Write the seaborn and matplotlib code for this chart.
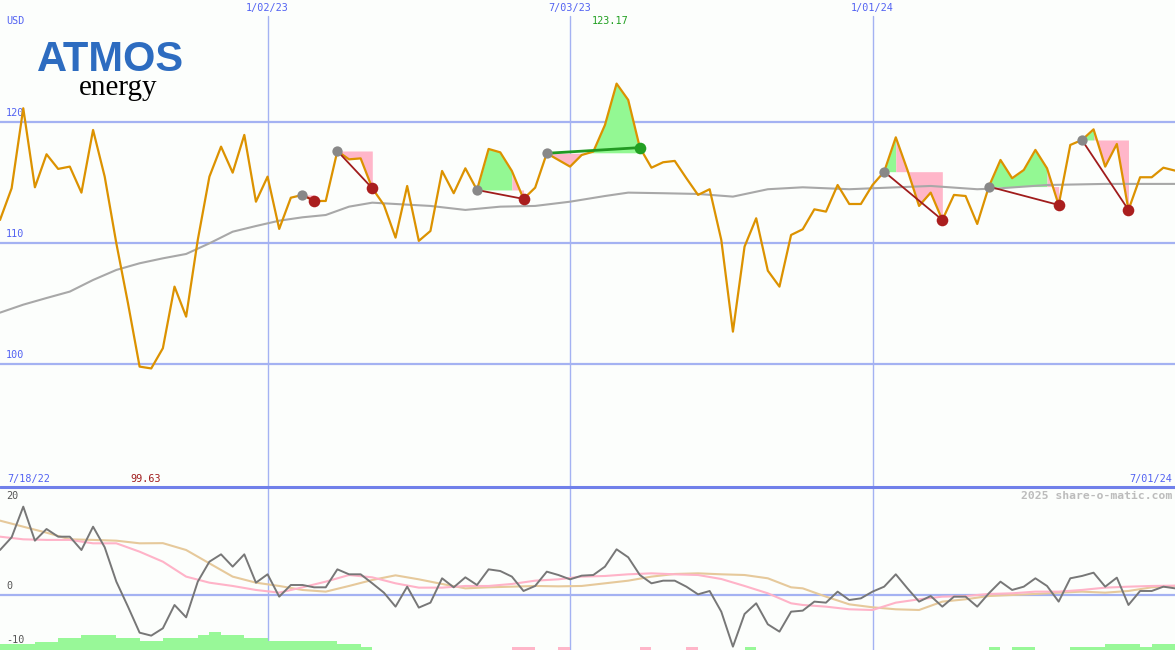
import numpy as np
import pandas as pd
import seaborn as sns
import matplotlib.pyplot as plt

# weekly closes, 7/25/22 .. 7/01/24
weeks = pd.date_range("2022-07-25", periods=102, freq="7D")

price = [111.90, 114.52, 121.13, 114.60, 117.33, 116.12, 116.31, 114.16, 119.34, 115.48,
         109.97, 105.02, 99.78, 99.63, 101.30, 106.39, 103.91, 110.25, 115.48, 117.96,
         115.81, 118.93, 113.41, 115.48, 111.16, 113.74, 113.97, 113.47, 113.47, 117.60,
         116.91, 116.99, 114.52, 113.14, 110.44, 114.71, 110.17, 110.99, 115.95, 114.11,
         116.17, 114.38, 117.77, 117.49, 115.95, 113.64, 114.57, 117.41, 116.86, 116.31,
         117.27, 117.55, 119.75, 123.17, 121.82, 117.88, 116.22, 116.67, 116.78, 115.35,
         113.97, 114.44, 110.25, 102.67, 109.70, 112.04, 107.71, 106.39, 110.66, 111.13,
         112.78, 112.59, 114.79, 113.22, 113.22, 114.79, 115.89, 118.73, 116.03, 113.06,
         114.16, 111.90, 113.97, 113.88, 111.57, 114.66, 116.86, 115.35, 116.03, 117.69,
         116.17, 113.14, 118.10, 118.51, 119.39, 116.31, 118.18, 112.73, 115.43, 115.43,
         116.22, 115.98]

# long moving average (read at sampled weeks)
ma_idx = [0, 2, 4, 6, 8, 10, 12, 14, 16, 18, 20, 22, 24, 26, 28, 30, 32, 34, 37, 40,
          43, 46, 49, 52, 54, 57, 60, 63, 66, 69, 73, 75, 80, 84, 86, 90, 95, 101]
ma = [104.24, 104.90, 105.45, 105.98, 106.94, 107.77, 108.32, 108.73, 109.09, 109.97,
      110.93, 111.40, 111.84, 112.12, 112.31, 113.00, 113.33, 113.22, 113.06, 112.73,
      113.00, 113.06, 113.41, 113.88, 114.16, 114.11, 114.05, 113.83, 114.44, 114.60,
      114.44, 114.52, 114.71, 114.44, 114.52, 114.79, 114.88, 114.88]

# oscillator panel
osc = [8.33, 10.68, 16.36, 10.06, 12.22, 10.80, 10.80, 8.33, 12.65, 8.83,
       2.47, -2.16, -6.98, -7.53, -6.17, -1.85, -4.14, 2.47, 6.17, 7.53,
       5.25, 7.53, 2.28, 3.83, -0.31, 1.85, 1.85, 1.42, 1.42, 4.75,
       3.83, 3.83, 2.16, 0.43, -2.16, 1.54, -2.34, -1.42, 3.09, 1.42,
       3.27, 1.85, 4.75, 4.44, 3.40, 0.74, 1.67, 4.32, 3.70, 2.90,
       3.58, 3.70, 5.25, 8.46, 6.98, 3.70, 2.16, 2.65, 2.65, 1.54,
       0.12, 0.74, -3.09, -9.57, -3.52, -1.54, -5.43, -6.79, -3.09, -2.90,
       -1.23, -1.42, 0.62, -0.93, -0.62, 0.62, 1.54, 3.83, 1.23, -1.23,
       -0.19, -2.16, -0.31, -0.31, -2.16, 0.31, 2.47, 0.93, 1.54, 3.09,
       1.67, -1.23, 3.09, 3.52, 4.13, 1.54, 3.21, -1.85, 0.74, 0.74,
       1.54, 1.23]

smooth_idx = [0, 2, 4, 6, 8, 10, 12, 14, 16, 18, 20, 22, 24, 26, 28, 30, 32, 34, 36, 38,
              40, 42, 44, 46, 48, 50, 52, 54, 56, 58, 60, 62, 64, 66, 68, 69, 71, 73, 75, 77,
              79, 81, 83, 85, 87, 89, 91, 93, 95, 97, 99, 101]
osc_pink = [10.80, 10.31, 10.20, 10.20, 9.57, 9.57, 8.02, 6.17, 3.40, 2.28,
            1.67, 0.93, 0.43, 1.42, 2.47, 3.70, 3.27, 2.16, 1.36, 1.36,
            1.67, 1.67, 2.04, 2.65, 2.90, 3.40, 3.52, 3.83, 4.01, 3.83,
            3.70, 2.96, 1.67, 0.31, -1.54, -1.85, -2.16, -2.65, -2.78, -1.42,
            -0.80, -0.31, -0.20, 0.19, 0.31, 0.62, 0.62, 0.93, 1.36, 1.54,
            1.67, 1.73]
osc_tan = [13.77, 12.65, 11.54, 10.31, 10.20, 10.06, 9.57, 9.60, 8.33, 5.86,
           3.40, 2.28, 1.67, 0.93, 0.62, 1.67, 2.78, 3.64, 2.90, 2.04,
           1.23, 1.42, 1.54, 1.67, 1.60, 1.67, 2.16, 2.65, 3.40, 3.89,
           4.01, 3.83, 3.70, 3.09, 1.42, 1.23, -0.31, -1.73, -2.28, -2.65,
           -2.78, -1.23, -0.80, -0.19, 0.00, 0.19, 0.43, 0.62, 0.43, 0.74,
           1.42, 1.67]

# volume-like bars at the foot of the lower panel
bar_green_idx = [0, 1, 2, 3, 4, 5, 6, 7, 8, 9, 10, 11, 12, 13, 14, 15, 16, 17, 18, 19,
                 20, 21, 22, 23, 24, 25, 26, 27, 28, 29, 30, 31,
                 64, 85, 87, 88, 92, 93, 94, 95, 96, 97, 98, 99, 100]
bar_green = [1.05, 1.05, 1.05, 1.55, 1.55, 2.2, 2.2, 2.8, 2.8, 2.8, 2.2, 2.2, 1.6, 1.6,
             2.2, 2.2, 2.2, 2.8, 3.4, 2.8, 2.8, 2.2, 2.2, 1.6, 1.6, 1.6, 1.6, 1.6, 1.6,
             1.1, 1.1, 0.6,
             0.55, 0.55, 0.55, 0.55, 0.55, 0.55, 0.55, 1.1, 1.1, 1.1, 0.55, 1.1, 1.1]
bar_pink_idx = [44, 45, 48, 55, 59]
bar_pink = [0.55, 0.55, 0.55, 0.55, 0.55]

# patterns: start week, end week, week where colour turns (-1: by sign)
pat_start = [26, 29, 41, 47, 76, 85, 93]
pat_end = [27, 32, 45, 55, 81, 91, 97]
pat_turn = [26, 29, 44, -1, 77, 90, 94]

grid_dates = ["2023-01-02", "2023-07-03", "2024-01-01"]
grid_labels = ["1/02/23", "7/03/23", "1/01/24"]

bg = "#fcfefc"
blue = "#5262f2"
gridc = "#a4b2f2"
orange = "#dc9200"
pinkf = "#ffb6c9"
greenf = "#93f893"
mono = "DejaVu Sans Mono"

sns.set_style("white")
plt.rcParams["font.family"] = ["DejaVu Sans Mono", "DejaVu Sans"]

fig = plt.figure(figsize=(11.75, 6.5), dpi=100, facecolor=bg)
ax = fig.add_axes([0, 163 / 650, 1, 487 / 650])
ax2 = fig.add_axes([0, 0, 1, 163 / 650])
for a in (ax, ax2):
    a.set_axis_off()
    a.set_xlim(weeks[0], weeks[-1])
ax.set_ylim(89.83, 130.08)
ax2.set_ylim(-10.19, 20.0)

# grid
for v in (100, 110, 120):
    ax.axhline(v, color=gridc, lw=1.6, zorder=1)
for d in grid_dates:
    ax.axvline(pd.Timestamp(d), ymin=0, ymax=(487 - 16) / 487, color=gridc, lw=1.0, zorder=1)
    ax2.axvline(pd.Timestamp(d), color=gridc, lw=1.0, zorder=1)
ax2.axhline(0, color=gridc, lw=1.6, zorder=1)
ax2.axhline(20, color="#7080ea", lw=2.2, zorder=6, clip_on=False)

p = np.array(price)
x = np.array(weeks)

# pattern fills
for s, e, t in zip(pat_start, pat_end, pat_turn):
    lvl = p[s]
    if t < 0:
        xs, ys = x[s:e + 1], p[s:e + 1]
        ax.fill_between(xs, ys, lvl, where=ys >= lvl, interpolate=True, color=greenf, lw=0, zorder=2)
        ax.fill_between(xs, ys, lvl, where=ys <= lvl, interpolate=True, color=pinkf, lw=0, zorder=2)
    else:
        if t > s:
            ax.fill_between(x[s:t + 1], p[s:t + 1], lvl, color=greenf, lw=0, zorder=2)
        ax.fill_between(x[t:e + 1], p[t:e + 1], lvl, color=pinkf, lw=0, zorder=2)

sns.lineplot(x=weeks[ma_idx], y=ma, ax=ax, color="#a8a8a8", lw=1.5, zorder=3)
sns.lineplot(x=weeks, y=price, ax=ax, color=orange, lw=1.6, zorder=4)

for s, e in zip(pat_start, pat_end):
    up = p[e] > p[s]
    lc = "#229922" if up else "#a01c1c"
    ax.plot([x[s], x[e]], [p[s], p[e]], color=lc, lw=2.0 if up else 1.3, zorder=5)
    ax.scatter([x[s]], [p[s]], s=55, color="#888888", zorder=6, lw=0)
    ax.scatter([x[e]], [p[e]], s=70, color="#22a022" if up else "#aa1e1e", zorder=6, lw=0)
ax.set_xlabel("")
ax.set_ylabel("")

# lower panel
ax2.bar(weeks[bar_green_idx], bar_green, width=7, align="edge", bottom=-10.19,
        color="#98f898", lw=0, zorder=2)
ax2.bar(weeks[bar_pink_idx], bar_pink, width=7, align="edge", bottom=-10.19,
        color=pinkf, lw=0, zorder=2)
sns.lineplot(x=weeks[smooth_idx], y=osc_tan, ax=ax2, color="#e6c99b", lw=1.5, zorder=3)
sns.lineplot(x=weeks[smooth_idx], y=osc_pink, ax=ax2, color="#ffb3c8", lw=1.5, zorder=3)
sns.lineplot(x=weeks, y=osc, ax=ax2, color="#777777", lw=1.4, zorder=4)
ax2.set_xlabel("")
ax2.set_ylabel("")

# labels
fs = 7.3
for v in (100, 110, 120):
    ax.text(6 / 1175, v + 0.35, str(v), transform=ax.get_yaxis_transform(),
            color=blue, fontsize=fs, va="bottom", family=mono)
ax2.text(6 / 1175, 19.2, "20", transform=ax2.get_yaxis_transform(), color="#555555",
         fontsize=fs, va="top", family=mono)
ax2.text(6 / 1175, 0.7, "0", transform=ax2.get_yaxis_transform(), color="#555555",
         fontsize=fs, va="bottom", family=mono)
ax2.text(6 / 1175, -9.3, "-10", transform=ax2.get_yaxis_transform(), color="#555555",
         fontsize=fs, va="bottom", family=mono)


def px(xp, yp):
    return xp / 1175, 1 - yp / 650


fig.text(*px(6, 21), "USD", color=blue, fontsize=fs, va="center", family=mono)
for d, lab in zip(grid_dates, grid_labels):
    ax.text(pd.Timestamp(d), 1 - 8 / 487, lab, transform=ax.get_xaxis_transform(),
            color=blue, fontsize=fs, ha="center", va="center", family=mono)
fig.text(*px(7, 479), "7/18/22", color=blue, fontsize=fs, va="center", family=mono)
fig.text(*px(1172, 479), "7/01/24", color=blue, fontsize=fs, va="center", ha="right", family=mono)
fig.text(*px(146, 479), f"{min(price):.2f}", color="#a01c1c", fontsize=fs, va="center",
         ha="center", family=mono)
fig.text(*px(610, 21), f"{max(price):.2f}", color="#22a022", fontsize=fs, va="center",
         ha="center", family=mono)
fig.text(*px(1172, 496), "2025 share-o-matic.com", color="#bcbcbc", fontsize=8.2,
         va="center", ha="right", family=mono, fontweight="bold")

# logo
fig.text(*px(37, 71), "ATMOS", color="#2d6cc0", fontsize=30, fontweight="heavy",
         family="Liberation Sans", va="baseline", ha="left")
fig.text(*px(79, 95), "energy", color="black", fontsize=21,
         family="Liberation Serif", va="baseline", ha="left")

fig.savefig("out.png", dpi=100, facecolor=bg)
